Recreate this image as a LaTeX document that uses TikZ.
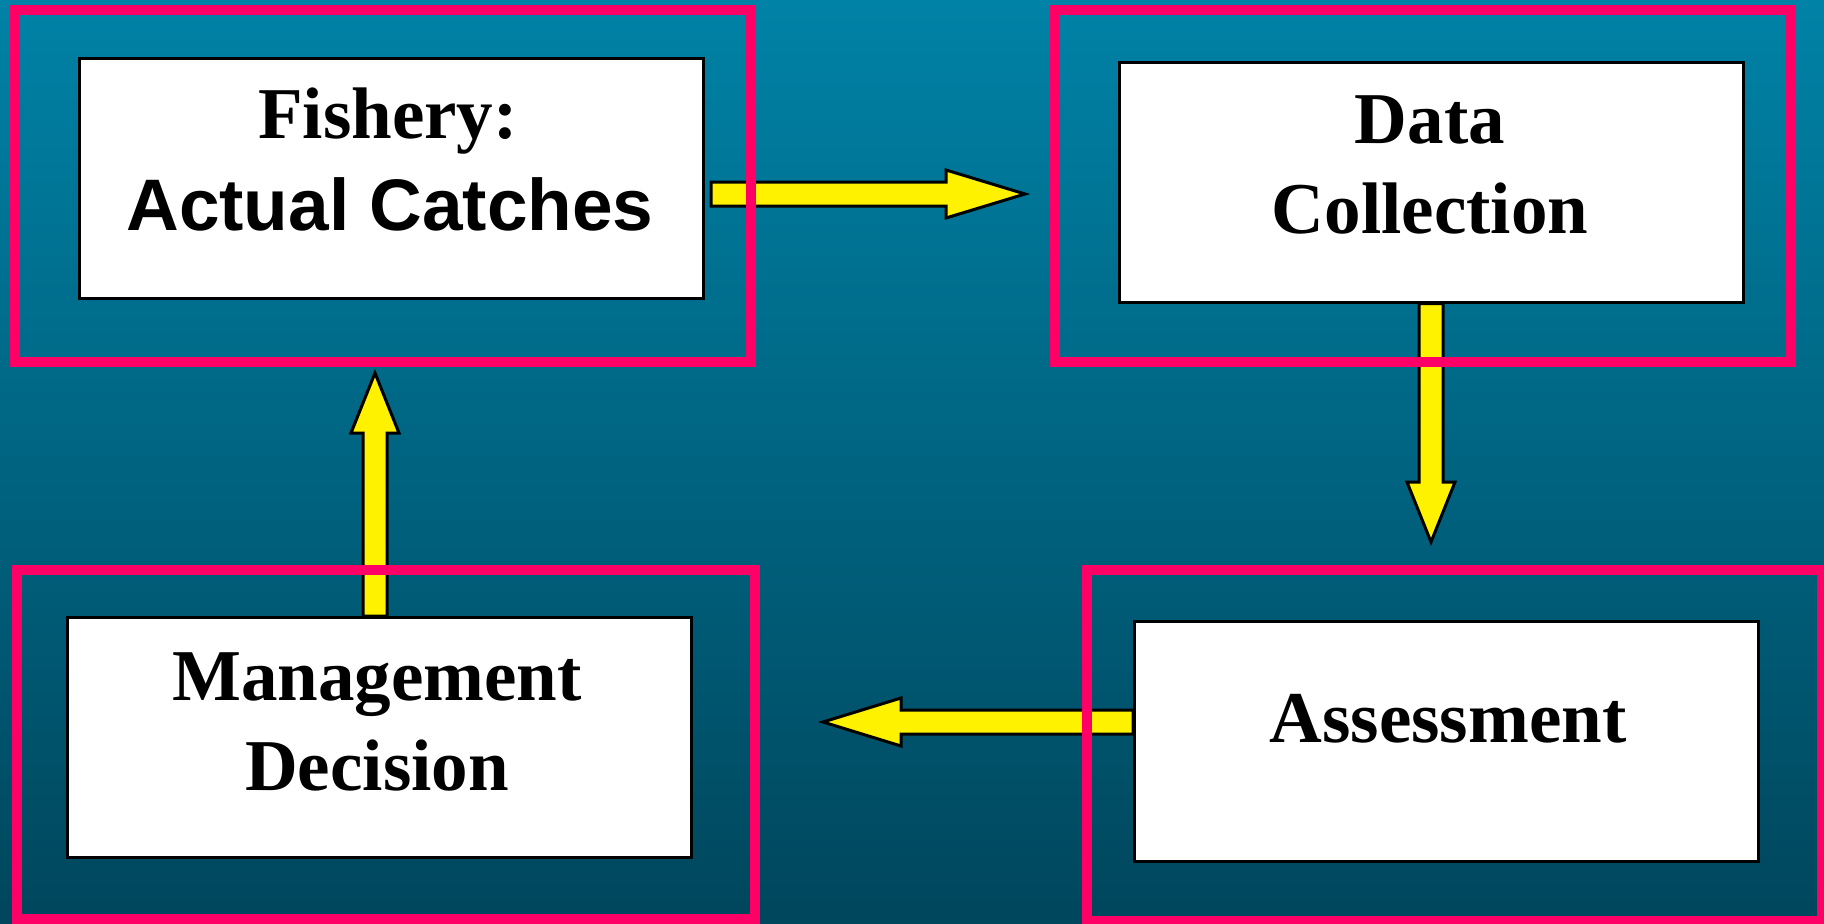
\documentclass[tikz,border=0pt]{standalone}
\usepackage{fontspec}
\setmainfont{Liberation Serif}
\setsansfont{Liberation Sans}
\usetikzlibrary{calc}

\definecolor{bgtop}{RGB}{0,130,166}
\definecolor{bgbot}{RGB}{0,70,92}
\definecolor{framepink}{RGB}{255,0,102}

\tikzset{
  box/.style={draw=black, line width=3pt, fill=white, minimum width=624pt, minimum height=240pt, inner sep=0pt},
  pinkframe/.style={draw=framepink, line width=10pt},
  lbl/.style={font=\bfseries\fontsize{73}{88}\selectfont, anchor=base, inner sep=0pt},
  arrowbody/.style={draw=black, line width=3pt, fill=yellow, line join=miter}
}

% fat block arrow: start, tip, head length
\newcommand{\fatarrow}[3]{%
  \coordinate (hb) at ($(#2)!#3!(#1)$);
  \draw[arrowbody] ($(#1)!12pt!90:(#2)$) -- ($(hb)!12pt!90:(#2)$) -- ($(hb)!24pt!90:(#2)$)
    -- (#2) -- ($(hb)!24pt!-90:(#2)$) -- ($(hb)!12pt!-90:(#2)$) -- ($(#1)!12pt!-90:(#2)$) -- cycle;
}

\begin{document}
\begin{tikzpicture}[x=1pt, y=-1pt]
	\useasboundingbox (0,0) rectangle (1824,924);
	\shade[top color=bgtop, bottom color=bgbot] (0,0) rectangle (1824,924);

	\node[box] (F1) at (391,178) {};
	\node[box] (D1) at (1431,182) {};
	\node[box] (M1) at (379,737.5) {};
	\node[box] (A1) at (1446.5,741.5) {};

	\node[lbl] (Ft1) at (388,138) {Fishery:};
	\node[lbl, font=\sffamily\bfseries\fontsize{73}{88}\selectfont] (Ft2) at (390,230) {Actual Catches};
	\node[lbl] (Dt1) at (1430,143) {Data};
	\node[lbl] (Dt2) at (1430,233) {Collection};
	\node[lbl] (Mt1) at (377,700) {Management};
	\node[lbl] (Mt2) at (377,790) {Decision};
	\node[lbl] (At1) at (1448,742) {Assessment};

	\coordinate (s1) at (711,194);
	\coordinate (t1) at (1025,194);
	\coordinate (t2) at (1431,542);
	\coordinate (s3) at (A1.west |- 0,722);
	\coordinate (t3) at (823,722);
	\coordinate (s4) at (375,616);
	\coordinate (t4) at (375,373);

	\fatarrow{s1}{t1}{79pt}
	\fatarrow{D1.south}{t2}{60pt}
	\fatarrow{s3}{t3}{78pt}
	\fatarrow{s4}{t4}{60pt}

	\draw[pinkframe] (15,10) rectangle (751,362);
	\draw[pinkframe] (1055,10) rectangle (1791,362);
	\draw[pinkframe] (17,570) rectangle (755,919);
	\draw[pinkframe] (1087,570) rectangle (1822,921);
\end{tikzpicture}
\end{document}
